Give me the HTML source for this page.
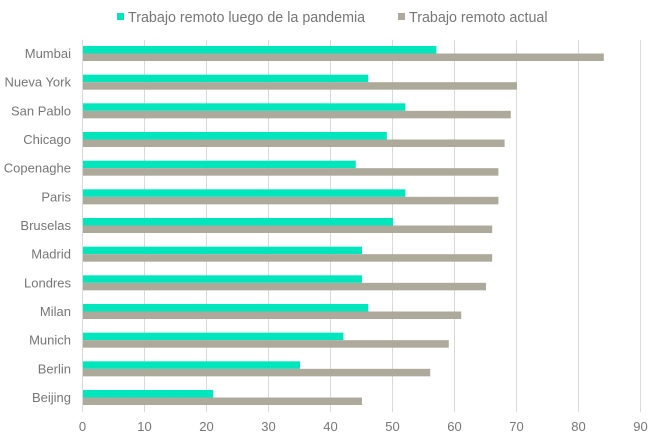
<!DOCTYPE html><html><head><style>body{margin:0;background:#fff}</style></head><body>
<svg width="660" height="440" xmlns="http://www.w3.org/2000/svg" font-family="Liberation Sans, sans-serif" font-size="13" fill="#767676">
<g stroke="#d9d9d9" stroke-width="1">
<line x1="82.5" y1="40" x2="82.5" y2="412"/><line x1="144.5" y1="40" x2="144.5" y2="412"/><line x1="206.5" y1="40" x2="206.5" y2="412"/><line x1="268.5" y1="40" x2="268.5" y2="412"/><line x1="330.5" y1="40" x2="330.5" y2="412"/><line x1="392.5" y1="40" x2="392.5" y2="412"/><line x1="454.5" y1="40" x2="454.5" y2="412"/><line x1="516.5" y1="40" x2="516.5" y2="412"/><line x1="578.5" y1="40" x2="578.5" y2="412"/><line x1="640.5" y1="40" x2="640.5" y2="412"/>
</g>
<g text-anchor="middle"><text x="82.5" y="431">0</text><text x="144.5" y="431">10</text><text x="206.5" y="431">20</text><text x="268.5" y="431">30</text><text x="330.5" y="431">40</text><text x="392.5" y="431">50</text><text x="454.5" y="431">60</text><text x="516.5" y="431">70</text><text x="578.5" y="431">80</text><text x="640.5" y="431">90</text></g>
<rect x="117" y="13" width="7" height="7" fill="#00e6bc"/><text x="128" y="22" font-size="14.3">Trabajo remoto luego de la pandemia</text>
<rect x="398" y="13" width="7" height="7" fill="#aeaa9b"/><text x="409" y="22" font-size="14.3">Trabajo remoto actual</text>
<g fill="#00e6bc">
<rect x="83" y="46" width="353.4" height="7.5"/>
<rect x="83" y="74.67" width="285.2" height="7.5"/>
<rect x="83" y="103.33" width="322.4" height="7.5"/>
<rect x="83" y="132" width="303.8" height="7.5"/>
<rect x="83" y="160.67" width="272.8" height="7.5"/>
<rect x="83" y="189.33" width="322.4" height="7.5"/>
<rect x="83" y="218" width="310" height="7.5"/>
<rect x="83" y="246.67" width="279" height="7.5"/>
<rect x="83" y="275.33" width="279" height="7.5"/>
<rect x="83" y="304" width="285.2" height="7.5"/>
<rect x="83" y="332.67" width="260.4" height="7.5"/>
<rect x="83" y="361.33" width="217" height="7.5"/>
<rect x="83" y="390" width="130.2" height="7.5"/>
</g>
<g fill="#aeaa9b">
<rect x="83" y="53.5" width="520.8" height="7.5"/>
<rect x="83" y="82.17" width="434" height="7.5"/>
<rect x="83" y="110.83" width="427.8" height="7.5"/>
<rect x="83" y="139.5" width="421.6" height="7.5"/>
<rect x="83" y="168.17" width="415.4" height="7.5"/>
<rect x="83" y="196.83" width="415.4" height="7.5"/>
<rect x="83" y="225.5" width="409.2" height="7.5"/>
<rect x="83" y="254.17" width="409.2" height="7.5"/>
<rect x="83" y="282.83" width="403" height="7.5"/>
<rect x="83" y="311.5" width="378.2" height="7.5"/>
<rect x="83" y="340.17" width="365.8" height="7.5"/>
<rect x="83" y="368.83" width="347.2" height="7.5"/>
<rect x="83" y="397.5" width="279" height="7.5"/>
</g>
<g text-anchor="end">
<text x="71" y="58">Mumbai</text>
<text x="71" y="86.67">Nueva York</text>
<text x="71" y="115.33">San Pablo</text>
<text x="71" y="144">Chicago</text>
<text x="71" y="172.67">Copenaghe</text>
<text x="71" y="201.33">Paris</text>
<text x="71" y="230">Bruselas</text>
<text x="71" y="258.67">Madrid</text>
<text x="71" y="287.33">Londres</text>
<text x="71" y="316">Milan</text>
<text x="71" y="344.67">Munich</text>
<text x="71" y="373.33">Berlin</text>
<text x="71" y="402">Beijing</text>
</g>
</svg></body></html>
